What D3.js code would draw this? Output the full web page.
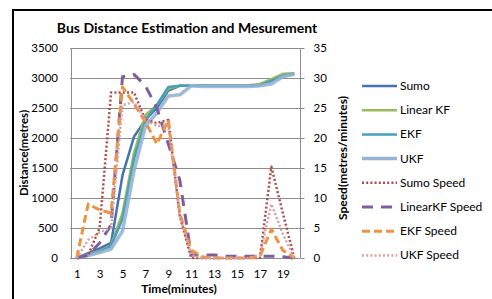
<!DOCTYPE html>
<html>
<head>
<meta charset="utf-8">
<script src="https://cdn.jsdelivr.net/npm/d3@7"></script>
<style>
  body { margin: 0; background: #fff; }
  text { font-family: Lato, "Open Sans", sans-serif; fill: #000; }
</style>
</head>
<body>
<script>
// minutes on the x axis
var minutes = ["1","2","3","4","5","6","7","8","9","10","11","12","13","14","15","16","17","18","19","20"];

// distance series (metres, left axis)
var sumo     = [0, 80, 160, 250, 1380, 2020, 2300, 2500, 2790, 2870, 2870, 2870, 2870, 2870, 2870, 2870, 2880, 2950, 3040, 3070];
var linearKF = [0, 60, 120, 210, 750, 1750, 2380, 2550, 2820, 2870, 2870, 2880, 2880, 2880, 2880, 2880, 2900, 2980, 3070, 3080];
var ekf      = [0, 50, 110, 200, 650, 1650, 2300, 2550, 2850, 2870, 2870, 2870, 2870, 2870, 2870, 2870, 2880, 2950, 3040, 3070];
var ukf      = [0, 40, 90, 150, 450, 1450, 2200, 2420, 2700, 2720, 2870, 2860, 2860, 2860, 2860, 2860, 2870, 2900, 3020, 3060];

// speed series (metres/minutes, right axis)
var sumoSpeed     = [0, 0.5, 5, 27.6, 27.6, 27.6, 23, 22.5, 23, 7, 0, 0, 0, 0, 0, 0, 0, 15.2, 7.5, 0];
var linearKFSpeed = [0, 0.5, 2.5, 5.5, 30.2, 30.6, 28.7, 25, 19, 13, 0.5, 0.5, 0.5, 0.3, 0.3, 0.3, 0.3, 0.3, 0.2, 0];
var ekfSpeed      = [0, 9, 8, 7.5, 28.5, 25.7, 22.7, 19, 23, 7.5, 1.3, 0.2, 0, 0, 0, 0, 0.3, 4.8, 1.3, 0];
var ukfSpeed      = [0, 3, 4.3, 5, 25.5, 26, 23, 22, 22, 7, 0.5, 0, 0, 0, 0, 0, 0.5, 9, 4, 0];

var distTicks  = [0, 500, 1000, 1500, 2000, 2500, 3000, 3500];
var speedTicks = [0, 5, 10, 15, 20, 25, 30, 35];

var series = [
  {name: "Sumo",           values: sumo,          axis: "L", color: "#4472b4", width: 2.5, dash: null},
  {name: "Linear KF",      values: linearKF,      axis: "L", color: "#9bbb59", width: 2.5, dash: null},
  {name: "EKF",            values: ekf,           axis: "L", color: "#45a0b8", width: 2.5, dash: null},
  {name: "UKF",            values: ukf,           axis: "L", color: "#95b3d7", width: 3.5, dash: null},
  {name: "Sumo Speed",     values: sumoSpeed,     axis: "R", color: "#b04a48", width: 2.5, dash: "2,2.2"},
  {name: "LinearKF Speed", values: linearKFSpeed, axis: "R", color: "#7d5fa0", width: 3,   dash: "11,8"},
  {name: "EKF Speed",      values: ekfSpeed,      axis: "R", color: "#f0913f", width: 3,   dash: "8,4"},
  {name: "UKF Speed",      values: ukfSpeed,      axis: "R", color: "#d9a0a0", width: 2.5, dash: "2,2.2"}
];

var svg = d3.select("body").append("svg")
  .attr("width", 492)
  .attr("height", 299);

// outer frame (only left and top edges visible)
svg.append("rect")
  .attr("x", 13).attr("y", 10)
  .attr("width", 500).attr("height", 300)
  .attr("fill", "none")
  .attr("stroke", "#000")
  .attr("stroke-width", 2);

var plotL = 71, plotR = 300, plotT = 48, plotB = 258;

var x = d3.scalePoint().domain(minutes).range([plotL, plotR]).padding(0.5);
var yL = d3.scaleLinear().domain([0, 3500]).range([plotB, plotT]);
var yR = d3.scaleLinear().domain([0, 35]).range([plotB, plotT]);

// gridlines
svg.append("g").selectAll("line")
  .data(distTicks)
  .enter().append("line")
  .attr("x1", plotL - 1).attr("x2", plotR)
  .attr("y1", function(d){ return Math.round(yL(d)) + 0.5; })
  .attr("y2", function(d){ return Math.round(yL(d)) + 0.5; })
  .attr("stroke", "#8c8c8c")
  .attr("stroke-width", 1);

// axis lines
svg.append("line").attr("x1", plotL + 0.5).attr("x2", plotL + 0.5).attr("y1", plotT).attr("y2", plotB)
  .attr("stroke", "#8c8c8c");
svg.append("line").attr("x1", plotR + 0.5).attr("x2", plotR + 0.5).attr("y1", plotT).attr("y2", plotB)
  .attr("stroke", "#8c8c8c");

// left tick labels
var axL = d3.axisLeft(yL).tickValues(distTicks).tickFormat(d3.format("d")).tickSize(0).tickPadding(13);
var gL = svg.append("g").attr("transform", "translate(" + plotL + ",0)").call(axL);
gL.select(".domain").remove();
gL.selectAll("text").style("font-size", "11.5px").style("font-family", "Lato, sans-serif").attr("fill", "#000");

// right axis ticks + labels
var axR = d3.axisRight(yR).tickValues(speedTicks).tickSize(4).tickPadding(9);
var gR = svg.append("g").attr("transform", "translate(" + (plotR + 0.5) + ",0)").call(axR);
gR.select(".domain").remove();
gR.selectAll("line").attr("stroke", "#8c8c8c");
gR.selectAll("text").style("font-size", "11.5px").style("font-family", "Lato, sans-serif").attr("fill", "#000");

// bottom labels, every other minute
var axB = d3.axisBottom(x).tickValues(minutes.filter(function(d, i){ return i % 2 === 0; }))
  .tickSize(0).tickPadding(12);
var gB = svg.append("g").attr("transform", "translate(0," + plotB + ")").call(axB);
gB.select(".domain").remove();
gB.selectAll("text").style("font-size", "11.5px").style("font-family", "Lato, sans-serif").attr("fill", "#000");

// lines
series.forEach(function(s){
  var yy = s.axis === "L" ? yL : yR;
  var line = d3.line()
    .x(function(d, i){ return x(minutes[i]); })
    .y(function(d){ return yy(d); });
  svg.append("path")
    .datum(s.values)
    .attr("d", line)
    .attr("fill", "none")
    .attr("stroke", s.color)
    .attr("stroke-width", s.width)
    .attr("stroke-dasharray", s.dash)
    .attr("stroke-linejoin", "round")
    .attr("opacity", s.name === "UKF" ? 0.9 : 1);
});

// title
svg.append("text")
  .attr("x", 187).attr("y", 33)
  .attr("text-anchor", "middle")
  .style("font-size", "14px").style("font-weight", "bold")
  .text("Bus Distance Estimation and Mesurement");

// axis titles
svg.append("text")
  .attr("transform", "translate(28,153) rotate(-90)")
  .attr("text-anchor", "middle")
  .style("font-size", "11.5px").style("font-weight", "bold")
  .text("Distance(metres)");

svg.append("text")
  .attr("transform", "translate(347,158) rotate(-90)")
  .attr("text-anchor", "middle")
  .style("font-size", "12px").style("font-weight", "bold")
  .text("Speed(metres/minutes)");

svg.append("text")
  .attr("x", 179).attr("y", 293)
  .attr("text-anchor", "middle")
  .style("font-size", "12px").style("font-weight", "bold")
  .text("Time(minutes)");

// legend
var legend = svg.append("g").selectAll("g")
  .data(series)
  .enter().append("g")
  .attr("transform", function(d, i){ return "translate(362," + (86 + i * 24.2) + ")"; });

legend.append("line")
  .attr("x1", 0).attr("x2", 35)
  .attr("stroke", function(d){ return d.color; })
  .attr("stroke-width", function(d){ return d.width; })
  .attr("stroke-dasharray", function(d){ return d.dash; });

legend.append("text")
  .attr("x", 38).attr("y", 4)
  .style("font-size", "12px")
  .text(function(d){ return d.name; });
</script>
</body>
</html>
